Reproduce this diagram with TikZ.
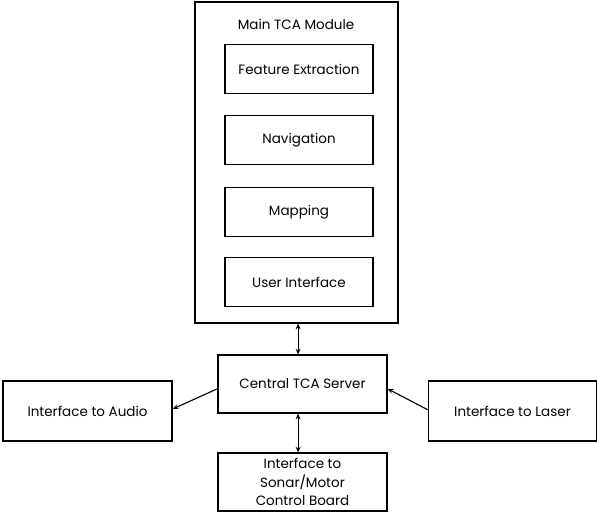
\documentclass[tikz,border=0pt]{standalone}
\usepackage{fontspec}
\setmainfont{Poppins}
\usetikzlibrary{arrows.meta}
\tikzset{box/.style={draw, line width=0.9pt, minimum width=4.225cm, minimum height=1.45cm, inner sep=0pt, font=\fontsize{9.6}{13}\selectfont},
         subbox/.style={box, minimum width=3.7cm, minimum height=1.225cm},
         link/.style={line width=0.8pt, -{Stealth[length=4pt,width=3.5pt]}},
         dlink/.style={line width=0.8pt, {Stealth[length=4pt,width=3.5pt]}-{Stealth[length=4pt,width=3.5pt]}}}
\begin{document}
\begin{tikzpicture}[x=0.025cm, y=-0.025cm]
        \useasboundingbox (0,0) rectangle (597,515);
        % main module with its parts
        \node[box, minimum width=5.075cm, minimum height=8.025cm] (main) at (296.5,162.5) {};
        \node[font=\fontsize{9.6}{13}\selectfont] (title) at (296,24) {Main TCA Module};
        \node[subbox] (feat) at (299,69) {Feature Extraction};
        \node[subbox] (nav) at (299,140) {Navigation};
        \node[subbox] (map) at (299,212) {Mapping};
        \node[subbox] (ui) at (299,282) {User Interface};

        % server and interfaces
        \node[box] (server) at (302.5,384) {Central TCA Server};
        \node[box, minimum height=1.5cm] (audio) at (87.5,411) {Interface to Audio};
        \node[box, minimum width=4.2cm, minimum height=1.5cm] (laser) at (512.5,411) {Interface to Laser};
        \node[box, align=center] (sonar) at (302.5,482) {Interface to\\Sonar/Motor\\Control Board};

        \draw[dlink] ([xshift=-0.11cm]server.north |- main.south) -- ([xshift=-0.11cm]server.north);
        \draw[dlink] ([xshift=-0.11cm]server.south) -- ([xshift=-0.11cm]sonar.north);
        \draw[link] ([yshift=-0.12cm]server.west) -- ([yshift=0.05cm]audio.east);
        \draw[link] ([yshift=0.03cm]laser.west) -- ([yshift=-0.12cm]server.east);
\end{tikzpicture}
\end{document}
